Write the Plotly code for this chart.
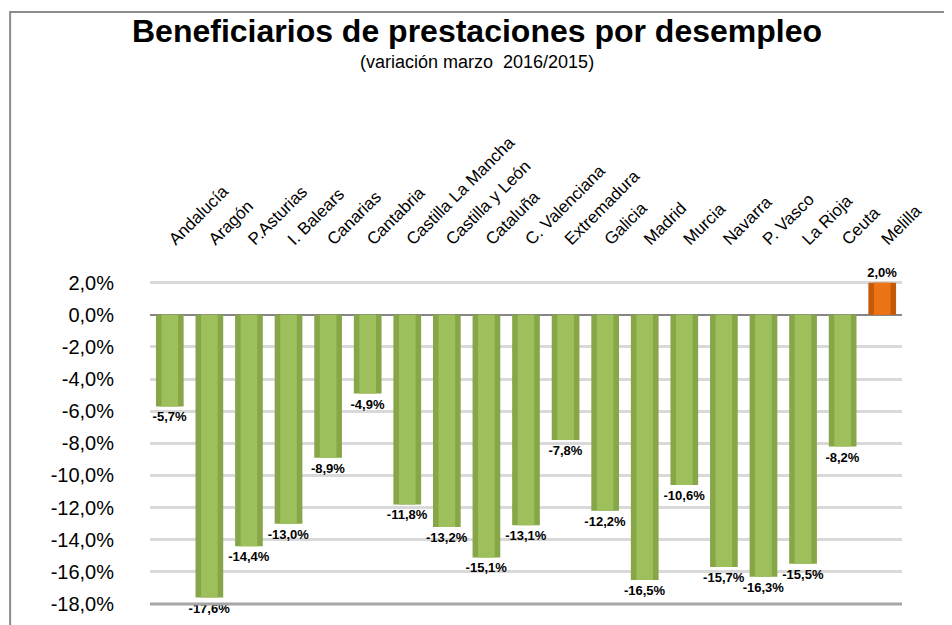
import plotly.graph_objects as go

regiones = ["Andalucía", "Aragón", "P.Asturias", "I. Balears", "Canarias", "Cantabria",
            "Castilla La Mancha", "Castilla y León", "Cataluña", "C. Valenciana",
            "Extremadura", "Galicia", "Madrid", "Murcia", "Navarra", "P. Vasco",
            "La Rioja", "Ceuta", "Melilla"]
variacion = [-5.7, -17.6, -14.4, -13.0, -8.9, -4.9, -11.8, -13.2, -15.1, -13.1,
             -7.8, -12.2, -16.5, -10.6, -15.7, -16.3, -15.5, -8.2, 2.0]
y_ticks = [2, 0, -2, -4, -6, -8, -10, -12, -14, -16, -18]

FUENTE = "Liberation Sans, Arial"

# colores de cilindro: borde oscuro, centro más claro
exterior = ["#C45A08" if v > 0 else "#86A647" for v in variacion]
interior = ["#EC7416" if v > 0 else "#9DC05C" for v in variacion]
etiquetas = [f"{v:.1f}%".replace(".", ",") for v in variacion]

fig = go.Figure()
fig.add_trace(go.Bar(
    x=regiones, y=variacion, width=0.7,
    marker=dict(color=exterior, line=dict(width=0)),
    text=etiquetas, textposition="outside", cliponaxis=False, constraintext="none",
    textfont=dict(family=FUENTE, size=13, color="#000000"),
    texttemplate="<b>%{text}</b>",
))
fig.add_trace(go.Bar(
    x=regiones, y=variacion, width=0.42,
    marker=dict(color=interior, line=dict(width=0)),
    hoverinfo="skip",
))

fig.update_layout(
    width=944, height=617,
    margin=dict(l=142, r=50, t=257, b=21),
    paper_bgcolor="white", plot_bgcolor="white",
    font=dict(family=FUENTE, color="#000000"),
    barmode="overlay", showlegend=False,
    xaxis=dict(side="top", tickangle=-45, tickfont=dict(size=17), ticklabelstandoff=12,
               showgrid=False, showline=False, ticks="", automargin=False),
    yaxis=dict(range=[-18, 3.1], tickvals=y_ticks,
               ticktext=[f"{t:.1f}%".replace(".", ",") for t in y_ticks],
               tickfont=dict(size=20), ticklabelstandoff=35,
               showgrid=True, gridcolor="#D9D9D9", gridwidth=3,
               zeroline=True, zerolinecolor="#868686", zerolinewidth=2,
               showline=False, ticks="", automargin=False),
    annotations=[
        dict(text="<b>Beneficiarios de prestaciones por desempleo</b>", xref="paper", yref="paper",
             x=0.435, y=1.69, yanchor="middle", showarrow=False, font=dict(size=32)),
        dict(text="(variación marzo  2016/2015)", xref="paper", yref="paper",
             x=0.435, y=1.599, yanchor="middle", showarrow=False, font=dict(size=18)),
    ],
    shapes=[
        dict(type="rect", xref="paper", yref="paper", x0=-0.186, x1=1.061, y0=-0.2, y1=1.746,
             line=dict(color="#8C8C8C", width=2)),
        dict(type="line", xref="paper", yref="paper", x0=0, x1=1, y0=0, y1=0,
             line=dict(color="#A6A6A6", width=3)),
    ],
)

fig.write_html("out.html")
